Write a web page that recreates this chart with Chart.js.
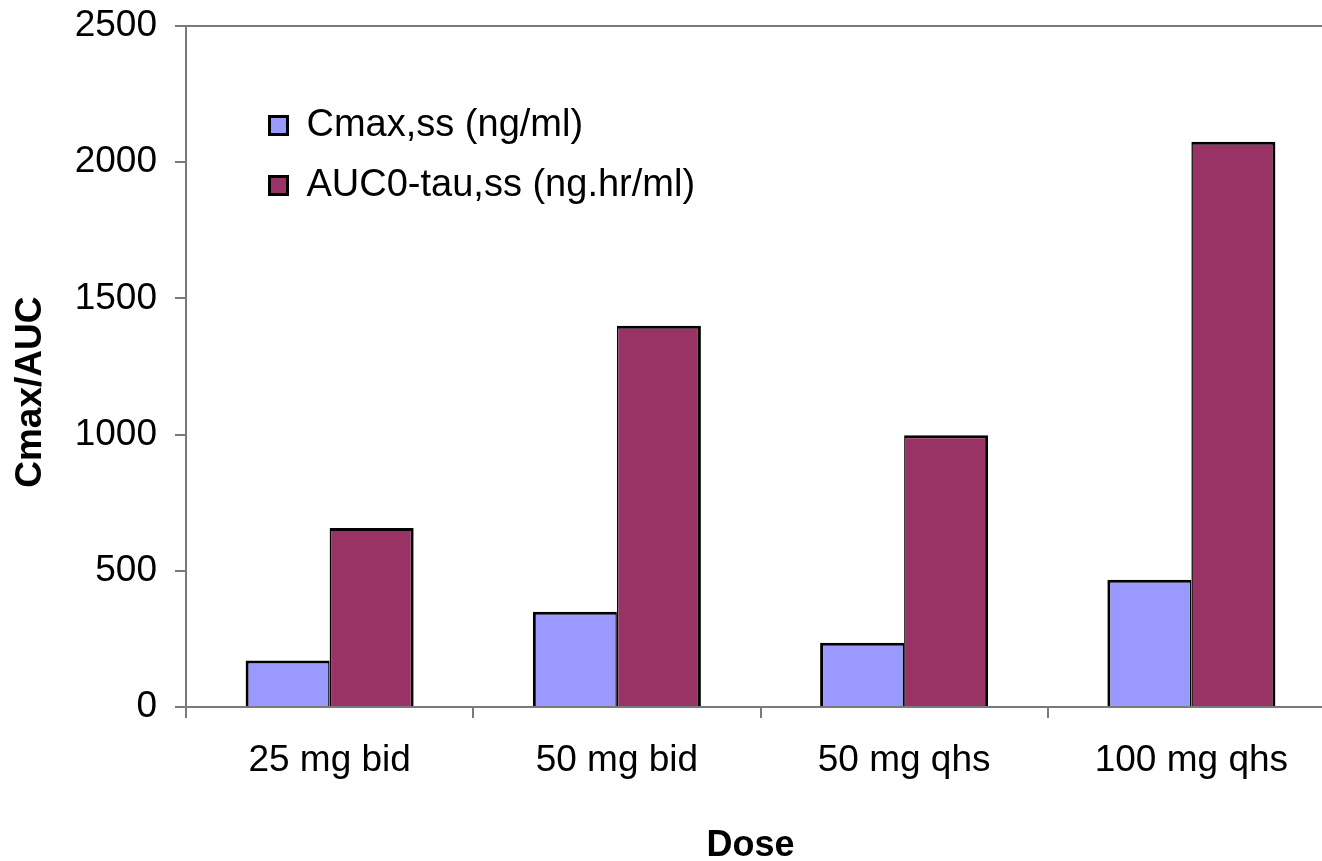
<!DOCTYPE html>
<html>
<head>
<meta charset="utf-8">
<script src="https://cdn.jsdelivr.net/npm/chart.js@4.4.1/dist/chart.umd.min.js"></script>
<style>
html, body { margin: 0; padding: 0; background: #ffffff; overflow: hidden; }
#wrap { width: 1340px; height: 861px; }
canvas { display: block; }
</style>
</head>
<body>
<div id="wrap"><canvas id="c" width="1340" height="861"></canvas></div>
<script>
// ---- data ----
const categories = ['25 mg bid', '50 mg bid', '50 mg qhs', '100 mg qhs'];
const cmaxValues = [171, 350, 236, 467];
const aucValues = [657, 1400, 998, 2075];
const seriesNames = ['Cmax,ss (ng/ml)', 'AUC0-tau,ss (ng.hr/ml)'];
const yTicks = [0, 500, 1000, 1500, 2000, 2500];
const xTitle = 'Dose';
const yTitle = 'Cmax/AUC';

// ---- style ----
const FONT = '"Liberation Sans", Arial, Helvetica, sans-serif';
const AXIS_GRAY = '#7a7a7a';
Chart.defaults.font.family = FONT;
Chart.defaults.color = '#000000';

// place the legend inside the plot area, offset from its top-left corner
const legendOffset = {
  id: 'legendOffset',
  afterLayout(chart) {
    chart.legend.left = chart.chartArea.left + 61.5;
    chart.legend.top = chart.chartArea.top + 58.5;
  }
};

new Chart(document.getElementById('c'), {
  type: 'bar',
  data: {
    labels: categories,
    datasets: [
      {
        label: seriesNames[0],
        data: cmaxValues,
        backgroundColor: '#9999FF',
        borderColor: '#000000',
        borderWidth: { top: 3, left: 3, right: 1.5, bottom: 0 },
        inflateAmount: 0,
        categoryPercentage: 0.585,
        barPercentage: 1.0
      },
      {
        label: seriesNames[1],
        data: aucValues,
        backgroundColor: '#993366',
        borderColor: '#000000',
        borderWidth: { top: 3, left: 1.5, right: 3, bottom: 0 },
        inflateAmount: 0,
        categoryPercentage: 0.585,
        barPercentage: 1.0
      }
    ]
  },
  options: {
    responsive: false,
    animation: false,
    layout: { padding: { top: 26, right: 5, left: 0, bottom: 0 } },
    plugins: {
      tooltip: { enabled: false },
      legend: {
        display: true,
        position: 'chartArea',
        align: 'start',
        labels: {
          font: { size: 38, family: FONT },
          color: '#000000',
          boxWidth: 18,
          boxHeight: 18,
          padding: 22,
          generateLabels(chart) {
            const items = Chart.defaults.plugins.legend.labels.generateLabels(chart);
            items.forEach(it => { it.lineWidth = 3; it.strokeStyle = '#000000'; });
            return items;
          }
        }
      }
    },
    scales: {
      x: {
        position: 'bottom',
        offset: true,
        grid: {
          display: true,
          offset: true,
          drawOnChartArea: false,
          drawTicks: true,
          tickLength: 11,
          color: AXIS_GRAY,
          lineWidth: 2
        },
        border: { display: true, color: AXIS_GRAY, width: 2 },
        ticks: {
          font: { size: 37, family: FONT },
          color: '#000000',
          padding: 20.3,
          maxRotation: 0,
          autoSkip: false
        },
        title: {
          display: true,
          text: xTitle + '  ',
          font: { size: 36, weight: 'bold', family: FONT, lineHeight: 0.8 },
          color: '#000000',
          padding: { top: 28.4, bottom: 0.8 }
        }
      },
      xTop: {
        position: 'top',
        type: 'category',
        display: true,
        grid: { display: false, drawTicks: false },
        ticks: { display: false },
        border: { display: true, color: AXIS_GRAY, width: 2 }
      },
      y: {
        position: 'left',
        min: 0,
        max: 2500,
        afterBuildTicks(scale) {
          scale.ticks = yTicks.map(v => ({ value: v }));
        },
        grid: {
          display: true,
          drawOnChartArea: false,
          drawTicks: true,
          tickLength: 11,
          color: AXIS_GRAY,
          lineWidth: 2
        },
        border: { display: true, color: AXIS_GRAY, width: 2 },
        ticks: {
          font: { size: 37, family: FONT, lineHeight: 0.4 },
          color: '#000000',
          padding: 18,
          callback: (v) => String(v)
        },
        title: {
          display: true,
          text: yTitle + '     ',
          font: { size: 37, weight: 'bold', family: FONT },
          color: '#000000',
          padding: { top: 8.5, bottom: 3.8 }
        }
      }
    }
  },
  plugins: [legendOffset]
});
</script>
</body>
</html>
